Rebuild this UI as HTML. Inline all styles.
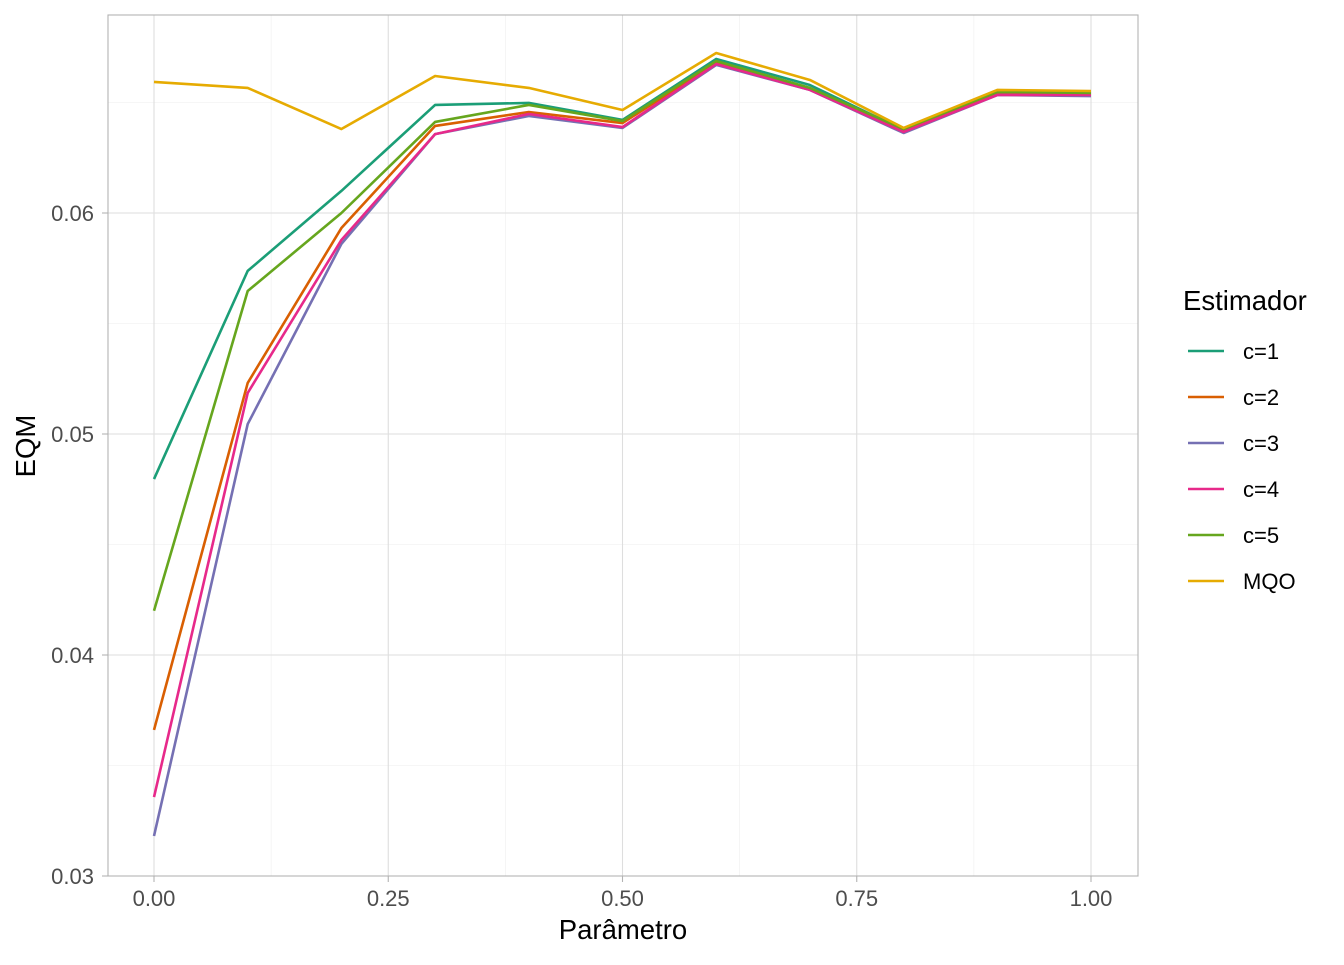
<!DOCTYPE html>
<html><head><meta charset="utf-8"><style>
body{margin:0;background:#fff;}
svg text{font-family:"Liberation Sans",sans-serif;}
</style></head><body>
<svg id="chart" width="1344" height="960" xmlns="http://www.w3.org/2000/svg">
<rect x="0" y="0" width="1344" height="960" fill="#fff"/>
<g id="grid"></g>
<g id="lines"></g>
<rect x="108" y="15" width="1030" height="861" fill="none" stroke="#b3b3b3" stroke-width="1.1"/>
<g id="axes"></g>
<text x="623" y="939" font-size="27.5" text-anchor="middle" fill="#000">Parâmetro</text>
<text transform="translate(35,446) rotate(-90)" font-size="27.5" text-anchor="middle" fill="#000">EQM</text>
<g id="legend">
<text x="1183" y="310" font-size="27.5" fill="#000">Estimador</text>
</g>
</svg>
<script>
const xs=[0,0.1,0.2,0.3,0.4,0.5,0.6,0.7,0.8,0.9,1.0];
const seriesNames=["c=1","c=2","c=3","c=4","c=5","MQO"];
const colors=["#1B9E77","#D95F02","#7570B3","#E7298A","#66A61E","#E6AB02"];
const c1=[0.04796,0.05738,0.0610,0.06489,0.06498,0.06421,0.06697,0.06579,0.06376,0.06543,0.06538];
const c2=[0.03661,0.05231,0.05932,0.06394,0.06457,0.06407,0.06679,0.06561,0.06376,0.06538,0.06534];
const c3=[0.03181,0.05045,0.0586,0.06357,0.06439,0.06385,0.0667,0.06557,0.06362,0.06534,0.06529];
const c4=[0.03357,0.05186,0.05878,0.06357,0.06448,0.06389,0.06674,0.06557,0.06367,0.06534,0.06534];
const c5=[0.042,0.05647,0.06,0.06412,0.06489,0.06416,0.06688,0.06566,0.0638,0.06548,0.06543];
const mqo=[0.06593,0.06566,0.0638,0.0662,0.06566,0.06466,0.06724,0.06602,0.06385,0.06557,0.06552];
const xTicks=[0,0.25,0.5,0.75,1];
const xTickLabels=["0.00","0.25","0.50","0.75","1.00"];
const yTicks=[0.03,0.04,0.05,0.06];
const yTickLabels=["0.03","0.04","0.05","0.06"];
const xMinor=[0.125,0.375,0.625,0.875];
const yMinor=[0.035,0.045,0.055,0.065];
const NS="http://www.w3.org/2000/svg";
const X=v=>154+v*937;
const Y=v=>876-(v-0.03)*22100;
function mk(t,a,p){const e=document.createElementNS(NS,t);for(const k in a)e.setAttribute(k,a[k]);p.appendChild(e);return e;}
const grid=document.getElementById('grid'),axes=document.getElementById('axes'),lines=document.getElementById('lines'),legend=document.getElementById('legend');
xMinor.forEach(v=>{const l=mk('line',{x1:X(v),x2:X(v),y1:15,y2:876,stroke:'#ededed','stroke-width':0.55},grid);

});
yMinor.forEach(v=>{const l=mk('line',{x1:108,x2:1138,y1:Y(v),y2:Y(v),stroke:'#ededed','stroke-width':0.55},grid);

});
xTicks.forEach((v,i)=>{const l=mk('line',{x1:X(v),x2:X(v),y1:15,y2:876,stroke:'#dedede','stroke-width':1.1},grid);


const t=mk('line',{x1:X(v),x2:X(v),y1:876,y2:882,stroke:'#b3b3b3','stroke-width':1.1},axes);


const tx=mk('text',{x:X(v),y:906,'font-size':22,'text-anchor':'middle',fill:'#4d4d4d'},axes);tx.textContent=xTickLabels[i];

});
yTicks.forEach((v,i)=>{const l=mk('line',{x1:108,x2:1138,y1:Y(v),y2:Y(v),stroke:'#dedede','stroke-width':1.1},grid);


const t=mk('line',{x1:102,x2:108,y1:Y(v),y2:Y(v),stroke:'#b3b3b3','stroke-width':1.1},axes);


const tx=mk('text',{x:94,y:Y(v)+8,'font-size':22,'text-anchor':'end',fill:'#4d4d4d'},axes);tx.textContent=yTickLabels[i];

});
const data=[c1,c2,c3,c4,c5,mqo];
data.forEach((s,i)=>{const p=mk('polyline',{points:s.map((v,j)=>X(xs[j])+','+Y(v)).join(' '),fill:'none',stroke:colors[i],'stroke-width':2.6,'stroke-linejoin':'round'},lines);


const ly=351+i*46;
const ll=mk('line',{x1:1188,x2:1224,y1:ly,y2:ly,stroke:colors[i],'stroke-width':2.6},legend);


const lt=mk('text',{x:1243,y:ly+8,'font-size':22,fill:'#000'},legend);lt.textContent=seriesNames[i];

});
</script>
</body></html>
